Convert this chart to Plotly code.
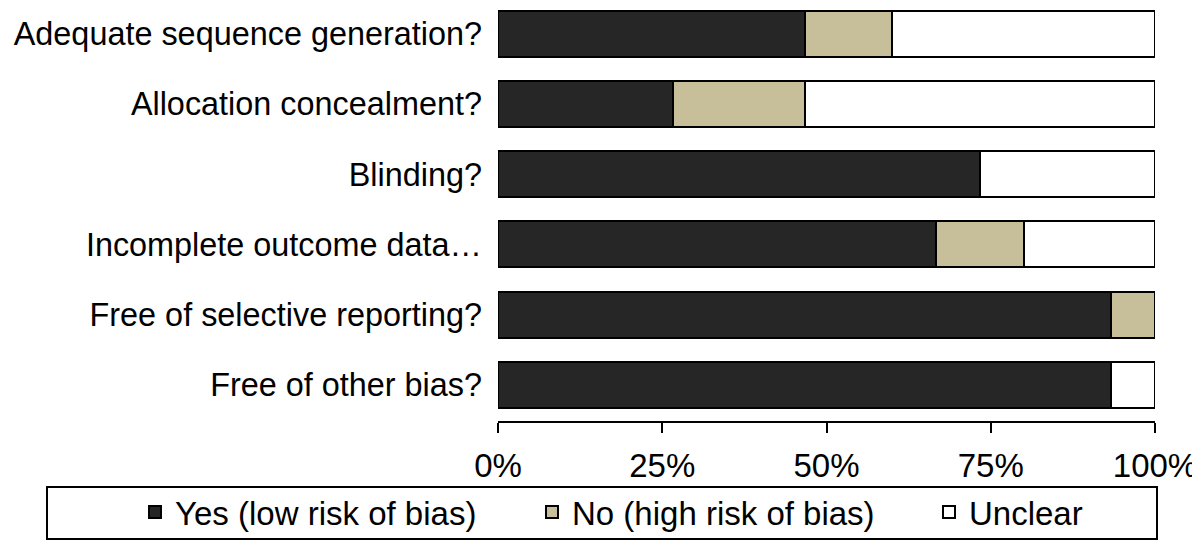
import plotly.graph_objects as go

categories = [
    "Adequate sequence generation?",
    "Allocation concealment?",
    "Blinding?",
    "Incomplete outcome data…",
    "Free of selective reporting?",
    "Free of other bias?",
]
yes_low = [46.7, 26.7, 73.3, 66.7, 93.3, 93.3]
no_high = [13.3, 20.0, 0.0, 13.3, 6.7, 0.0]
unclear = [40.0, 53.3, 26.7, 20.0, 0.0, 6.7]
series_names = ["Yes (low risk of bias)", "No (high risk of bias)", "Unclear"]
series_colors = ["#262626", "#C6BF9A", "#FFFFFF"]
tick_vals = [0, 25, 50, 75, 100]
tick_text = ["0%", "25%", "50%", "75%", "100%"]

FONT = "Liberation Sans, Arial, Helvetica, sans-serif"
FS = 33

# page body has an 8px margin; figure sized to fill the rest of the window
W, H = 1192, 533
L, R, T, B = 490, 45, 0, 120
plot_w = W - L - R
plot_h = H - T - B

def px_to_paper_x(px):
    return (px - L) / plot_w

def px_to_paper_y(py):
    return (H - B - py) / plot_h

legend_widths = [352, 352, None]

fig = go.Figure()
for name, vals, col, lw in zip(series_names, [yes_low, no_high, unclear],
                               series_colors, legend_widths):
    fig.add_trace(go.Bar(
        y=categories, x=vals, name=name, orientation="h",
        marker=dict(color=col, line=dict(color="#000000", width=2)),
        width=0.656,
        legendwidth=lw,
    ))

fig.add_shape(type="rect", xref="paper", yref="paper",
              x0=px_to_paper_x(39), x1=px_to_paper_x(1149),
              y0=px_to_paper_y(531), y1=px_to_paper_y(479),
              line=dict(color="#000000", width=2), fillcolor="rgba(0,0,0,0)")

fig.update_layout(
    width=W, height=H,
    margin=dict(l=L, r=R, t=T, b=B, autoexpand=False),
    barmode="stack",
    plot_bgcolor="#FFFFFF", paper_bgcolor="#FFFFFF",
    font=dict(family=FONT, size=FS, color="#000000"),
    showlegend=True,
    legend=dict(orientation="h", x=px_to_paper_x(127), xanchor="left",
                y=px_to_paper_y(504), yanchor="middle",
                font=dict(family=FONT, size=FS, color="#000000"),
                bgcolor="rgba(0,0,0,0)", borderwidth=0, traceorder="normal"),
    xaxis=dict(range=[0, 100], tickvals=tick_vals, ticktext=tick_text,
               showline=True, linecolor="#000000", linewidth=2,
               ticks="outside", ticklen=10, tickwidth=2, tickcolor="#000000",
               showgrid=False, zeroline=False, fixedrange=True, automargin=False,
               ticklabelstandoff=4, tickfont=dict(size=FS)),
    yaxis=dict(type="category", categoryorder="array", categoryarray=categories,
               range=[5.518, -0.371], showgrid=False, zeroline=False,
               showline=False, ticks="", ticklabelstandoff=15, automargin=False,
               tickfont=dict(size=32.4)),
)

fig.write_html("out.html")
